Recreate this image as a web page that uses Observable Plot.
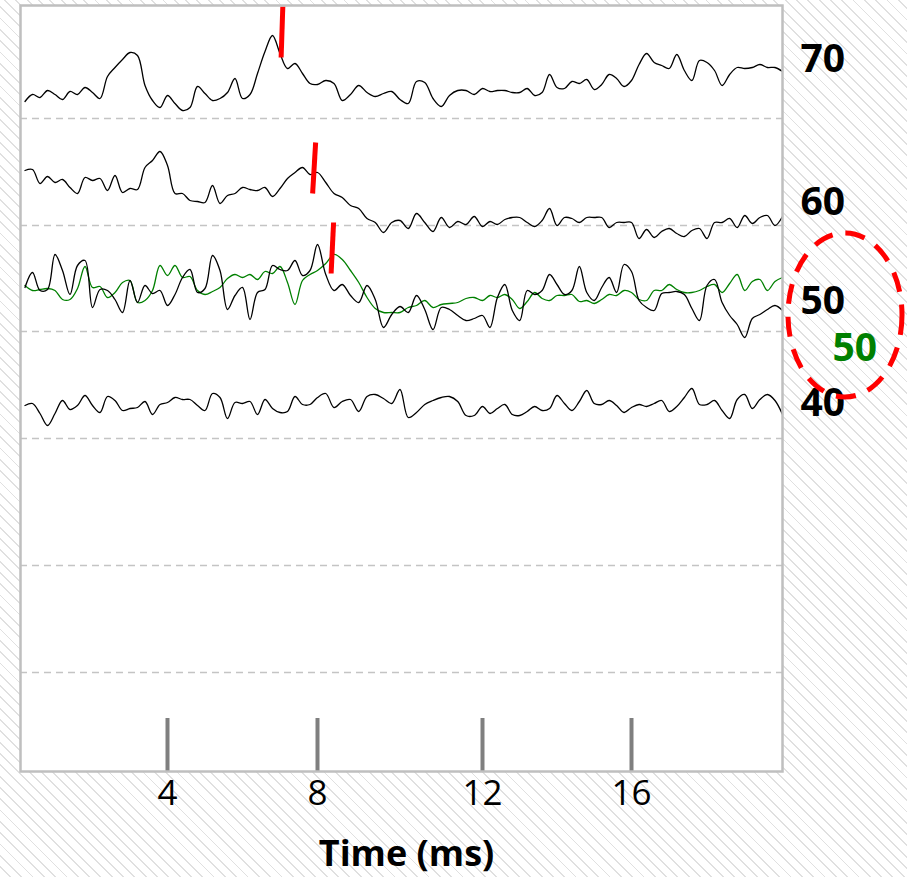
<!DOCTYPE html>
<html><head><meta charset="utf-8">
<script src="https://cdn.jsdelivr.net/npm/d3@7"></script>
<script src="https://cdn.jsdelivr.net/npm/@observablehq/plot@0.6"></script>
<style>
html,body{margin:0;padding:0;}
body{width:907px;height:877px;overflow:hidden;background:#fff repeating-linear-gradient(45deg,#ffffff 0px,#ffffff 6.7px,#e0e0e0 6.7px,#e0e0e0 8px);}
#chart svg{display:block;}
</style></head><body><div id="chart"></div>
<script>
// Stimulus levels (dB) and the baseline of each trace row (nV units on a shared axis)
const levels    = [70, 60, 50, 40, 30, 20];
const baselines = [653, 546, 440, 333, 206, 99];
const xTicks    = [4, 8, 12, 16];
const sampleStepMs = 0.2; // samples at 0.2, 0.4 ... 20.0 ms

// Deflections from each row baseline (nV), one value per sample
const wave70 = [17,24,21,28,24,19,27,24,31,26, 20,42,51,59,66,63,33,18,11,23,
  15,8,11,32,25,18,20,26,40,20, 24,45,67,83,65,50,55,45,35,34,
  38,35,18,24,33,26,22,25,27,19, 15,37,36,20,12,23,28,28,24,30,
  27,28,28,26,26,30,23,26,44,31, 30,37,35,39,29,34,44,40,32,38,
  54,65,56,53,50,64,48,38,58,56, 48,33,44,51,50,51,54,51,51,47];
const wave60 = [55,56,42,49,43,46,38,32,48,45, 47,35,50,33,37,36,58,65,74,60,
  32,32,25,24,23,40,22,30,32,38, 36,35,38,29,37,47,53,58,51,53,
  43,32,28,20,17,7,3,-7,3,5, -3,12,3,-6,8,-2,4,1,9,-1,
  4,1,6,8,8,3,-1,5,17,0, 8,7,3,8,8,8,-2,3,3,3,
  -13,-4,-12,-6,-3,-8,-11,-5,-3,-13, 3,3,7,-2,10,2,8,10,0,9];
const wave50 = [44,59,41,42,77,61,37,66,71,24, 42,41,32,19,51,29,46,38,41,26,
  37,54,62,39,43,76,61,22,36,44, 12,39,42,66,62,61,71,56,61,87,
  57,41,47,36,29,46,32,4,17,25, 19,36,22,2,24,22,16,11,13,16,
  4,34,47,21,11,41,37,41,57,47, 37,41,65,39,31,44,54,39,67,60,
  31,24,21,38,39,40,37,23,11,46, 52,29,16,7,-6,13,17,22,26,21];
const wave50repeat = [46,41,42,43,41,32,32,43,65,44, 45,34,39,49,51,29,31,41,66,56,
  66,54,55,41,37,40,44,53,57,54, 57,52,60,58,65,49,27,51,57,61,
  68,77,72,61,49,34,23,19,19,19, 24,26,31,24,27,28,29,33,34,31,
  36,34,37,32,23,30,39,33,31,36, 36,37,30,31,28,32,37,36,41,39,
  32,31,41,41,47,42,39,39,41,45, 47,39,48,57,41,50,52,41,50,54];
const wave40 = [33,35,25,13,25,38,29,33,43,33, 26,42,38,28,30,31,37,24,34,36,
  41,39,39,33,28,45,41,20,36,35, 37,24,39,30,26,27,42,34,34,41,
  45,31,37,39,27,42,44,40,35,49, 21,26,34,38,41,42,37,23,23,32,
  25,30,34,24,23,27,32,28,30,43, 35,28,37,48,35,34,38,33,26,31,
  34,32,35,38,27,32,41,50,34,34, 38,28,20,39,44,30,39,44,38,24];

// Wave V peak markers (ms, deflection nV), bottom and top ends
const peakLevels = [70, 60, 50];
const peakT1 = [7.03, 7.87, 8.33];
const peakD1 = [61, 32, 58];
const peakT2 = [7.075, 7.95, 8.39];
const peakD2 = [112, 83, 109];

const base = lv => baselines[levels.indexOf(lv)];
const series = [
  {level: 70, wave: wave70, color: "#000000"},
  {level: 60, wave: wave60, color: "#000000"},
  {level: 50, wave: wave50repeat, color: "#008000"},
  {level: 50, wave: wave50, color: "#000000"},
  {level: 40, wave: wave40, color: "#000000"}
];
const toRows = s => s.wave.map((d, i) => ({t: Math.round((i + 1) * sampleStepMs * 100) / 100, v: base(s.level) + d}));
const markers = peakLevels.map((lv, i) => ({x1: peakT1[i], y1: base(lv) + peakD1[i], x2: peakT2[i], y2: base(lv) + peakD2[i]}));

const font = "'Open Sans', 'Noto Sans', sans-serif";
const lab = (txt, lv, dy, dx, color) => Plot.text([txt], {x: 20, y: base(lv), dx, dy, text: d => d, textAnchor: "start",
  fontSize: 39, fontWeight: "bold", fill: color});

const chart = Plot.plot({
  width: 907, height: 877,
  marginLeft: 20, marginRight: 125, marginTop: 5, marginBottom: 106,
  style: {background: "transparent", fontFamily: font, overflow: "visible"},
  x: {type: "linear", domain: [0, 4, 8, 12, 16, 20], range: [17, 167, 317, 482, 631, 782], axis: null},
  y: {domain: [0, 766], axis: null},
  marks: [
    Plot.frame({fill: "white", stroke: null}),
    Plot.ruleY(baselines, {stroke: "#c4c4c4", strokeWidth: 1.5, strokeDasharray: "7,5"}),
    Plot.ruleX(xTicks, {y1: 0, y2: 53, stroke: "#7f7f7f", strokeWidth: 4}),
    ...series.map(s => Plot.line(toRows(s), {x: "t", y: "v", stroke: s.color, strokeWidth: 1.3, curve: "catmull-rom"})),
    Plot.link(markers, {x1: "x1", y1: "y1", x2: "x2", y2: "y2", stroke: "#ff0000", strokeWidth: 5}),
    Plot.frame({stroke: "#bfbfbf", strokeWidth: 2.5}),
    Plot.text(xTicks, {x: d => d, y: 0, dy: 22, text: d => String(d), fontSize: 35, fill: "#000"}),
    Plot.text(["Time (ms)"], {frameAnchor: "bottom", dx: 5, dy: 94, text: d => d, fontSize: 36, fontWeight: "bold", fill: "#000"}),
    lab("70", 70, -59, 18, "#000"),
    lab("60", 60, -23, 18, "#000"),
    lab("50", 50, -30, 18, "#000"),
    lab("50", 50, 17, 50, "#008000"),
    lab("40", 40, -35, 18, "#000")
  ]
});

// dashed red ellipse highlighting the repeated 50 dB run
const sx = chart.scale("x"), sy = chart.scale("y");
d3.select(chart).append("ellipse")
  .attr("cx", sx.apply(20) + 63).attr("cy", sy.apply(base(50)) - 16)
  .attr("rx", 57).attr("ry", 82)
  .attr("fill", "none").attr("stroke", "#ff0000").attr("stroke-width", 5)
  .attr("stroke-dasharray", "20,13");
document.getElementById("chart").append(chart);
</script></body></html>
